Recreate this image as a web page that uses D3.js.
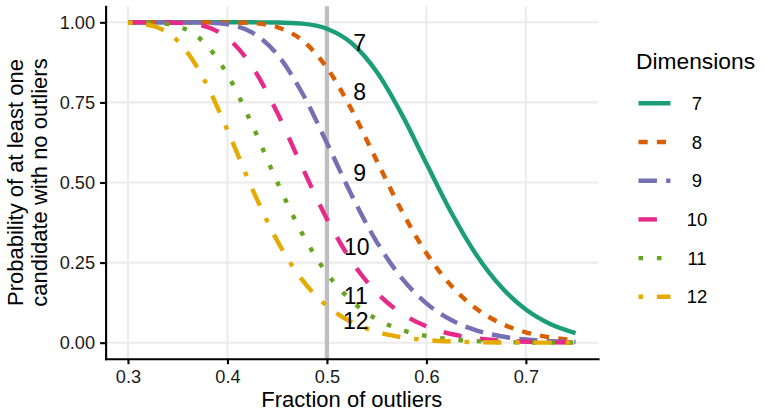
<!DOCTYPE html>
<html>
<head>
<meta charset="utf-8">
<script src="https://cdn.jsdelivr.net/npm/d3@7"></script>
<style>
  html, body { margin: 0; padding: 0; background: #ffffff; }
  svg { display: block; font-family: "Liberation Sans", Arial, Helvetica, sans-serif; }
</style>
</head>
<body>
<svg id="chart" width="764" height="415"></svg>
<script>
// ---------------- data ----------------
const outlierFraction = [0.300, 0.325, 0.350, 0.375, 0.400, 0.425, 0.450, 0.475, 0.500, 0.525,
                         0.550, 0.575, 0.600, 0.625, 0.650, 0.675, 0.700, 0.725, 0.750];
const dimensions = ["7", "8", "9", "10", "11", "12"];
const prob7  = [1.000, 1.000, 1.000, 1.000, 1.000, 1.000, 0.9995, 0.9959, 0.9799, 0.9346,
                0.8455, 0.7141, 0.5592, 0.4063, 0.2751, 0.1743, 0.1036, 0.0577, 0.0301];
const prob8  = [1.000, 1.000, 1.000, 1.000, 0.9998, 0.9975, 0.9848, 0.9442, 0.8581, 0.7263,
                0.5686, 0.4127, 0.2794, 0.1776, 0.1065, 0.0603, 0.0323, 0.0162, 0.0076];
const prob9  = [1.000, 1.000, 1.000, 0.9993, 0.9935, 0.9678, 0.9000, 0.7802, 0.6234, 0.4596,
                0.3150, 0.2024, 0.1229, 0.0707, 0.0386, 0.0200, 0.0098, 0.0045, 0.0019];
const prob10 = [1.000, 0.9999, 0.9988, 0.9894, 0.9513, 0.8612, 0.7182, 0.5486, 0.3863, 0.2534,
                0.1566, 0.0916, 0.0511, 0.0271, 0.0137, 0.0066, 0.0030, 0.0012, 0.0005];
const prob11 = [0.9999, 0.9987, 0.9874, 0.9417, 0.8370, 0.6788, 0.5017, 0.3413, 0.2166, 0.1297,
                0.0737, 0.0400, 0.0208, 0.0103, 0.0048, 0.0021, 0.0009, 0.0003, 0.0001];
const prob12 = [0.9990, 0.9886, 0.9418, 0.8307, 0.6632, 0.4795, 0.3183, 0.1968, 0.1149, 0.0639,
                0.0339, 0.0172, 0.0084, 0.0039, 0.0017, 0.0007, 0.0003, 0.0001, 0.0000];
const seriesValues = [prob7, prob8, prob9, prob10, prob11, prob12];

const referenceFraction = 0.5;
const xTicks = [0.3, 0.4, 0.5, 0.6, 0.7];
const yTicks = [0.00, 0.25, 0.50, 0.75, 1.00];

// in-plot direct labels (data coordinates)
const labelFraction = [0.533, 0.533, 0.533, 0.530, 0.529, 0.529];
const labelProb     = [0.937, 0.784, 0.530, 0.300, 0.146, 0.068];

const xTitle = "Fraction of outliers";
const yTitleLines = ["Probability of at least one", "candidate with no outliers"];
const legendTitle = "Dimensions";

// ---------------- styles ----------------
const colors = ["#1B9E77", "#D95F02", "#7570B3", "#E7298A", "#66A61E", "#E6AB02"];
const lw = 4.4;       // line width (px)
const u = 4.6;        // dash unit (px)
const dashPatterns = [
  null,                                   // solid
  [2*u, 2*u],                             // "22"
  [4*u, 2*u],                             // "42"
  [4*u, 4*u],                             // "44"
  [1*u, 3*u],                             // "13"
  [1*u, 3*u, 4*u, 3*u]                    // "1343"
];

// ---------------- layout ----------------
const svg = d3.select("#chart");
const panel = { left: 105.6, right: 598, top: 6.3, bottom: 358.7 };

const x = d3.scaleLinear().domain([0.2775, 0.7725]).range([panel.left, panel.right]);
const y = d3.scaleLinear().domain([-0.05, 1.05]).range([panel.bottom, panel.top]);

// grid
const grid = svg.append("g").attr("class", "grid");
grid.selectAll("line.gx").data(xTicks).enter().append("line")
  .attr("x1", d => x(d)).attr("x2", d => x(d))
  .attr("y1", panel.top).attr("y2", panel.bottom)
  .attr("stroke", "#EBEBEB").attr("stroke-width", 2.1);
grid.selectAll("line.gy").data(yTicks).enter().append("line")
  .attr("y1", d => y(d)).attr("y2", d => y(d))
  .attr("x1", panel.left).attr("x2", panel.right)
  .attr("stroke", "#EBEBEB").attr("stroke-width", 2.1);

// reference vertical line
svg.append("line")
  .attr("x1", x(referenceFraction)).attr("x2", x(referenceFraction))
  .attr("y1", panel.top).attr("y2", panel.bottom)
  .attr("stroke", "#BEBEBE").attr("stroke-width", 4.3);

// curves
const line = d3.line()
  .x((d, i) => x(outlierFraction[i]))
  .y(d => y(d))
  .curve(d3.curveMonotoneX);

svg.append("g").selectAll("path").data(seriesValues).enter().append("path")
  .attr("d", d => line(d))
  .attr("fill", "none")
  .attr("stroke", (d, i) => colors[i])
  .attr("stroke-width", lw)
  .attr("stroke-linecap", "butt")
  .attr("stroke-linejoin", "round")
  .attr("stroke-dasharray", (d, i) => dashPatterns[i] ? dashPatterns[i].join(",") : null);

// direct labels
svg.append("g").selectAll("text").data(dimensions).enter().append("text")
  .attr("x", (d, i) => x(labelFraction[i]))
  .attr("y", (d, i) => y(labelProb[i]))
  .attr("dy", "0.36em")
  .attr("text-anchor", "middle")
  .attr("font-size", 23)
  .attr("fill", "#000")
  .text(d => d);

// axes
const xAxis = d3.axisBottom(x).tickValues(xTicks).tickFormat(d3.format(".1f"))
  .tickSize(5.5).tickSizeOuter(0).tickPadding(6);
const yAxis = d3.axisLeft(y).tickValues(yTicks).tickFormat(d3.format(".2f"))
  .tickSize(5.5).tickSizeOuter(0).tickPadding(5);

const gx = svg.append("g").attr("transform", `translate(0,${panel.bottom})`).call(xAxis);
const gy = svg.append("g").attr("transform", `translate(${panel.left},0)`).call(yAxis);
[gx, gy].forEach(g => {
  g.select(".domain").attr("stroke", "#000").attr("stroke-width", 2.1).attr("stroke-linecap", "square");
  g.selectAll(".tick line").attr("stroke", "#000").attr("stroke-width", 2.1);
  g.selectAll(".tick text").attr("fill", "#1a1a1a").attr("font-size", 18.2)
    .attr("font-family", "Liberation Sans, Arial, Helvetica, sans-serif");
});

// axis titles
svg.append("text")
  .attr("x", (panel.left + panel.right) / 2).attr("y", 406.5)
  .attr("text-anchor", "middle").attr("font-size", 22).attr("fill", "#000")
  .text(xTitle);

const yMid = (panel.top + panel.bottom) / 2;
yTitleLines.forEach((t, i) => {
  svg.append("text")
    .attr("transform", `translate(${23 + i * 24},${yMid}) rotate(-90)`)
    .attr("text-anchor", "middle").attr("font-size", 22).attr("fill", "#000")
    .text(t);
});

// legend
const legend = svg.append("g");
legend.append("text").attr("x", 636).attr("y", 69.3)
  .attr("font-size", 22.8).attr("fill", "#000").text(legendTitle);
const keyY = i => 103.3 + i * 38.7;
const keys = legend.selectAll("g.key").data(dimensions).enter().append("g");
keys.append("line")
  .attr("x1", 638.5).attr("x2", 670.5)
  .attr("y1", (d, i) => keyY(i)).attr("y2", (d, i) => keyY(i))
  .attr("stroke", (d, i) => colors[i])
  .attr("stroke-width", lw)
  .attr("stroke-linecap", "butt")
  .attr("stroke-dasharray", (d, i) => dashPatterns[i] ? dashPatterns[i].join(",") : null);
keys.append("text")
  .attr("x", 697).attr("y", (d, i) => keyY(i))
  .attr("dy", "0.36em").attr("text-anchor", "middle")
  .attr("font-size", 18.5).attr("fill", "#000")
  .text(d => d);
</script>
</body>
</html>
